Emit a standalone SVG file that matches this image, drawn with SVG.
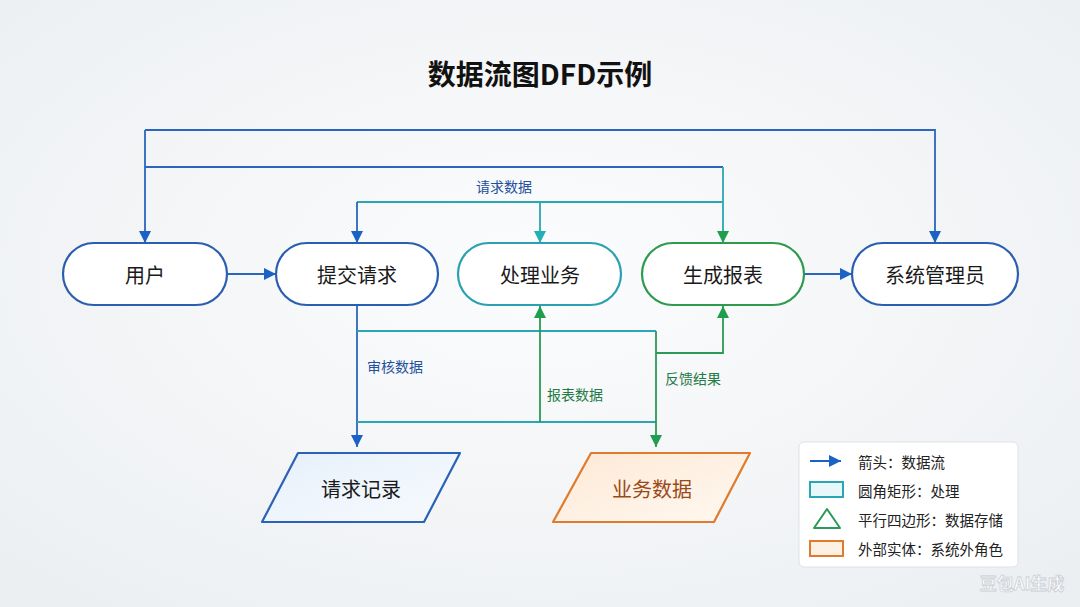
<svg xmlns="http://www.w3.org/2000/svg" width="1080" height="607" viewBox="0 0 1080 607">
<defs>
<radialGradient id="bg" cx="50%" cy="45%" r="70%">
<stop offset="0" stop-color="#fbfcfd"/>
<stop offset="1" stop-color="#eceff2"/>
</radialGradient>
<linearGradient id="gBlueFill" x1="0" y1="0" x2="1" y2="1">
<stop offset="0" stop-color="#e6f0fb"/>
<stop offset="1" stop-color="#f7fafd"/>
</linearGradient>
<linearGradient id="gOrangeFill" x1="0" y1="0" x2="1" y2="1">
<stop offset="0" stop-color="#fde9d6"/>
<stop offset="1" stop-color="#fff8f0"/>
</linearGradient>
<marker id="aBlue" viewBox="0 0 12 12" refX="12" refY="6" markerWidth="12" markerHeight="12" markerUnits="userSpaceOnUse" orient="auto">
<path d="M0,0 L12,6 L0,12 z" fill="#1a62c4"/>
</marker>
<marker id="aTeal" viewBox="0 0 12 12" refX="12" refY="6" markerWidth="12" markerHeight="12" markerUnits="userSpaceOnUse" orient="auto">
<path d="M0,0 L12,6 L0,12 z" fill="#1fb0b8"/>
</marker>
<marker id="aGreen" viewBox="0 0 12 12" refX="12" refY="6" markerWidth="12" markerHeight="12" markerUnits="userSpaceOnUse" orient="auto">
<path d="M0,0 L12,6 L0,12 z" fill="#1f9e4e"/>
</marker>
</defs>
<style>
text{font-family:"Noto Sans CJK SC","Noto Sans",sans-serif;}
.node{fill:#ffffff;stroke-width:2.2;}
.nt{font-size:20px;fill:#1a1a1a;text-anchor:middle;dominant-baseline:central;}
.c{fill:none;stroke-width:1.8;}
.blue{stroke:#2a66bd;}
.teal{stroke:#2aa6b4;}
.green{stroke:#2a9a55;}
.lbl{font-size:14px;dominant-baseline:central;}
.lg{font-size:14.5px;fill:#222;dominant-baseline:central;}
</style>
<rect width="1080" height="607" fill="url(#bg)"/>
<text x="540" y="73" font-size="28" font-weight="bold" fill="#111" text-anchor="middle" dominant-baseline="central">数据流图DFD示例</text>

<g id="connectors">
<path class="c blue" d="M145,130 H935 V243" marker-end="url(#aBlue)"/>
<path class="c blue" d="M145,130 V243" marker-end="url(#aBlue)"/>
<path class="c blue" d="M145,167 H723"/>
<path class="c teal" d="M723,167 V243" marker-end="url(#aGreen)"/>
<path class="c teal" d="M357,202 H723"/>
<path class="c blue" d="M357,202 V243" marker-end="url(#aBlue)"/>
<path class="c teal" d="M540,202 V243" marker-end="url(#aTeal)"/>
<path class="c blue" d="M227,274 H276" marker-end="url(#aBlue)"/>
<path class="c blue" d="M804,274 H852" marker-end="url(#aBlue)"/>
<path class="c blue" d="M357,305 V447" marker-end="url(#aBlue)"/>
<path class="c teal" d="M357,331 H656"/>
<path class="c teal" d="M357,422 H656"/>
<path class="c green" d="M540,422 V306" marker-end="url(#aGreen)"/>
<path class="c green" d="M656,331 V447" marker-end="url(#aGreen)"/>
<path class="c green" d="M656,353 H723 V306" marker-end="url(#aGreen)"/>
<text class="lbl" x="504" y="186" fill="#23509e" text-anchor="middle">请求数据</text>
<text class="lbl" x="367" y="366" fill="#23509e">审核数据</text>
<text class="lbl" x="547" y="394" fill="#237a45">报表数据</text>
<text class="lbl" x="665" y="378" fill="#237a45">反馈结果</text>
</g>

<g id="n-user"><rect class="node" x="63" y="243" width="164" height="62" rx="31" stroke="#2a5eb0"/><text class="nt" x="145" y="274">用户</text></g>
<g id="n-submit"><rect class="node" x="276" y="243" width="162" height="62" rx="31" stroke="#2a5eb0"/><text class="nt" x="357" y="274">提交请求</text></g>
<g id="n-process"><rect class="node" x="458" y="243" width="163" height="62" rx="31" stroke="#2aa0b0"/><text class="nt" x="540" y="274">处理业务</text></g>
<g id="n-report"><rect class="node" x="642" y="243" width="162" height="62" rx="31" stroke="#2e9a4e"/><text class="nt" x="723" y="274">生成报表</text></g>
<g id="n-admin"><rect class="node" x="852" y="243" width="166" height="62" rx="31" stroke="#2a5eb0"/><text class="nt" x="935" y="274">系统管理员</text></g>

<g id="n-records"><path d="M298,453 H460 L424,522 H262 Z" fill="url(#gBlueFill)" stroke="#2a62b8" stroke-width="2.2" stroke-linejoin="round"/><text class="nt" x="361" y="488" fill="#1a2a4a">请求记录</text></g>
<g id="n-bizdata"><path d="M591,453 H750 L714,522 H553 Z" fill="url(#gOrangeFill)" stroke="#e07a2c" stroke-width="2.2" stroke-linejoin="round"/><text class="nt" x="652" y="488" style="fill:#9a4a18">业务数据</text></g>

<g id="legend">
<rect x="799" y="442" width="219" height="125" rx="5" fill="#ffffff" stroke="#dde2e7" stroke-width="1"/>
<path d="M810,461 H841" stroke="#1a62c4" stroke-width="2" marker-end="url(#aBlue)"/>
<text class="lg" x="858" y="461">箭头：数据流</text>
<rect x="810" y="482" width="33" height="15" fill="#e8f8f9" stroke="#2aa6b4" stroke-width="2"/>
<text class="lg" x="858" y="490">圆角矩形：处理</text>
<path d="M827,509 L840,528 H814 Z" fill="none" stroke="#2a9a55" stroke-width="2" stroke-linejoin="round"/>
<text class="lg" x="858" y="519">平行四边形：数据存储</text>
<rect x="810" y="541" width="33" height="15" fill="#fdf1e4" stroke="#e07a2c" stroke-width="2"/>
<text class="lg" x="858" y="548">外部实体：系统外角色</text>
</g>
<text x="1022" y="582" font-size="17" font-weight="bold" fill="#ffffff" stroke="#c9ced3" stroke-width="0.8" text-anchor="middle" dominant-baseline="central">豆包AI生成</text>
</svg>
